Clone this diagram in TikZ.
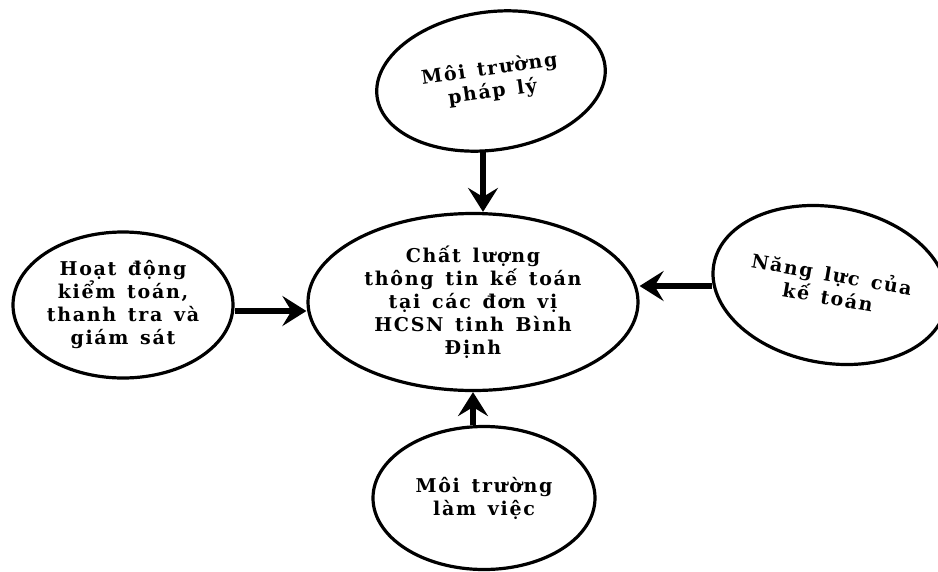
\documentclass[tikz,border=0pt]{standalone}
\usepackage{fontspec}
\setmainfont{DejaVu Serif}[LetterSpace=9, WordSpace=1.4]
\usetikzlibrary{shapes.geometric,arrows.meta}
\tikzset{
  factor/.style={ellipse, draw, line width=3.2pt, inner sep=0pt, align=center,
    font=\bfseries\fontsize{19pt}{23pt}\selectfont},
  flow/.style={line width=6pt, -{Stealth[length=24pt,width=30pt,inset=9pt]}}
}
\begin{document}
\begin{tikzpicture}[x=1pt, y=-1pt]
% Fix the picture size to the reference
\useasboundingbox (0,0) rectangle (938,571);

% Draw the central factor and the four influences
\node[factor, minimum width=330pt, minimum height=177pt] (quality) at (473,302)
  {Chất lượng\\thông tin kế toán\\tại các đơn vị\\HCSN tinh Bình\\Định};
\node[factor, minimum width=230pt, minimum height=138pt, rotate=8] (legal) at (491,81)
  {Môi trường\\pháp lý};
\node[factor, minimum width=220pt, minimum height=146pt] (audit) at (123,305)
  {Hoạt động\\kiểm toán,\\thanh tra và\\giám sát};
\node[factor, minimum width=236pt, minimum height=156pt, rotate=-10] (skill) at (830,285)
  {Năng lực của\\kế toán};
\node[factor, minimum width=222pt, minimum height=143pt] (work) at (484,498)
  {Môi trường\\làm việc};

% Draw the arrows towards the centre
\coordinate (skillin) at (712,286);
\draw[flow] ([xshift=10pt]quality.north |- legal.south) -- ([xshift=10pt]quality.north);
\draw[flow] ([yshift=-6pt]audit.east) -- ([yshift=-6pt]quality.west |- audit.east);
\draw[flow] (skillin) -- (quality.east |- skillin);
\draw[flow] ([xshift=-11pt]work.north) -- ([xshift=-11pt]work.north |- quality.south);
\end{tikzpicture}
\end{document}
